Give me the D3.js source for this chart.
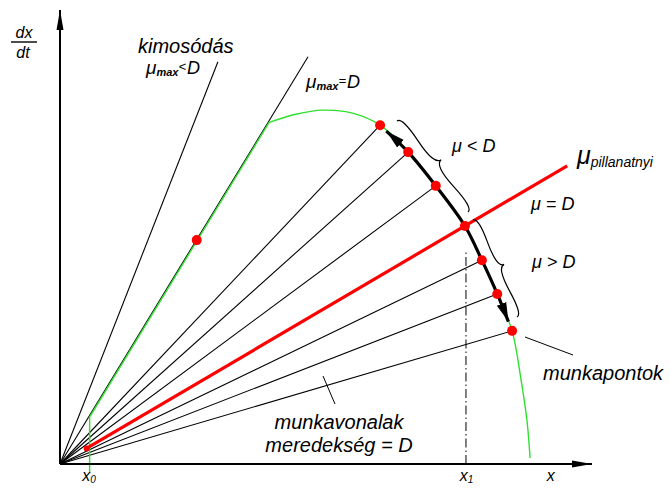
<!DOCTYPE html>
<html><head><meta charset="utf-8">
<script src="https://cdn.jsdelivr.net/npm/d3@7"></script>
<style>
body{margin:0;background:#fff}
text{font-family:"Liberation Sans",Arial,sans-serif;font-style:italic;fill:#000}
</style>
</head><body><svg id="c" width="670" height="489"></svg>
<script>
// ---- data (diagram units: x = concentration, y = dx/dt) ----
const workX = [60.4, 65.7, 70.9, 76.4, 79.6, 82.5, 85.3];   // munkapontok
const workY = [74.3, 68.4, 61.0, 52.2, 44.7, 37.3, 29.2];
const eqIndex = 3;                                           // μ = D
const washoutEnd = [29.8, 88.2];                             // kimosódás, μmax < D
const muMaxEnd = [46.8, 89.3];                               // μmax = D
const muMaxPoint = [25.8, 49.1];
const arcTopX = [39.2, 44.5, 49.5, 55.0];
const arcTopY = [74.8, 76.7, 77.6, 77.0];
const arcLowX = [87.0, 88.1, 88.7];
const arcLowY = [18.4, 9.6, 1.3];
const x0Val = 5.4, x1Val = 76.6, muLineEndX = 95.7;
const xTickValues = [x0Val, x1Val, 92.5];
const xTickLabels = ["x", "x", "x"];
const xTickSubs = ["0", "1", ""];

const W = 670, H = 489;
const svg = d3.select("#c");
const x = d3.scaleLinear().domain([0, 100]).range([60, 590]);
const y = d3.scaleLinear().domain([0, 100]).range([464, 8]);
const line = d3.line().x(d => x(d[0])).y(d => y(d[1]));
const O = [0, 0];

const defs = svg.append("defs");
function marker(id, path, len) {
  defs.append("marker").attr("id", id).attr("markerUnits", "userSpaceOnUse")
    .attr("viewBox", `0 -6 ${len} 12`).attr("refX", len).attr("refY", 0)
    .attr("markerWidth", len).attr("markerHeight", 12).attr("orient", "auto-start-reverse")
    .append("path").attr("d", path).attr("fill", "#000");
}
marker("axarr", "M0,-3.5L20,0L0,3.5Z", 20);
marker("thk", "M0,-5L19,0L0,5Z", 19);

// ---- rays from origin (munkavonalak) ----
const rays = [washoutEnd, muMaxEnd];
workX.forEach((v, i) => { if (i !== eqIndex) rays.push([v, workY[i]]); });
svg.append("g").selectAll("path").data(rays).join("path")
  .attr("d", d => line([O, d])).attr("stroke", "#000").attr("stroke-width", 1.1).attr("fill", "none");

// ---- green curve ----
const muMaxSlope = muMaxEnd[1] / muMaxEnd[0];
const green = "#2ee02e";
svg.append("path")
  .attr("d", line([[x0Val, -1.8], [x0Val, x0Val * muMaxSlope], [arcTopX[0], arcTopY[0]]]))
  .attr("transform", "translate(1,0)")
  .attr("stroke", green).attr("stroke-width", 1.4).attr("fill", "none");
const arcPts = arcTopX.map((v, i) => [v, arcTopY[i]])
  .concat(workX.map((v, i) => [v, workY[i]]))
  .concat(arcLowX.map((v, i) => [v, arcLowY[i]]));
svg.append("path").attr("d", line.curve(d3.curveCatmullRom)(arcPts))
  .attr("stroke", green).attr("stroke-width", 1.4).attr("fill", "none");
line.curve(d3.curveLinear);

// ---- red line μ pillanatnyi ----
const eqSlope = workY[eqIndex] / workX[eqIndex];
svg.append("path").attr("d", line([[x0Val - 0.4, (x0Val - 0.4) * eqSlope], [muLineEndX, muLineEndX * eqSlope]]))
  .attr("stroke", "#ff0000").attr("stroke-width", 3.2).attr("fill", "none");

// ---- dash-dot at x1 ----
svg.append("path").attr("d", line([[x1Val, 0], [x1Val, 46.8]]))
  .attr("stroke", "#000").attr("stroke-width", 1).attr("stroke-dasharray", "9,3,1.5,3").attr("fill", "none");

// ---- thick double arrow along working points ----
const lerp = (a, b, t) => [a[0] + (b[0] - a[0]) * t, a[1] + (b[1] - a[1]) * t];
const wp = workX.map((v, i) => [v, workY[i]]);
const thickPts = [lerp(wp[0], wp[1], 0.22)].concat(wp.slice(1, 6)).concat([lerp(wp[5], wp[6], 0.75)]);
const thickLine = d3.line().x(d => x(d[0])).y(d => y(d[1])).curve(d3.curveCatmullRom);
svg.append("path").attr("d", thickLine(thickPts.slice(2, 5))).attr("stroke", "#fff").attr("stroke-width", 8).attr("fill", "none");
svg.append("path").attr("d", thickLine(thickPts)).attr("stroke", "#000").attr("stroke-width", 3.2)
  .attr("fill", "none").attr("marker-start", "url(#thk)").attr("marker-end", "url(#thk)");

// ---- dots ----
svg.append("g").selectAll("circle").data(wp.concat([muMaxPoint])).join("circle")
  .attr("cx", d => x(d[0])).attr("cy", d => y(d[1])).attr("r", 5).attr("fill", "#ff0000");
svg.append("circle").attr("cx", x(x0Val) - 2).attr("cy", y((x0Val - 0.4) * eqSlope)).attr("r", 3).attr("fill", "#ff0000");

// ---- braces ----
function brace(x1, y1, x2, y2, w, q) {
  const len = Math.hypot(x1 - x2, y1 - y2);
  const dx = (x1 - x2) / len, dy = (y1 - y2) / len;
  const qx1 = x1 + q * w * dy, qy1 = y1 - q * w * dx;
  const qx2 = (x1 - .25 * len * dx) + (1 - q) * w * dy, qy2 = (y1 - .25 * len * dy) - (1 - q) * w * dx;
  const tx1 = (x1 - .5 * len * dx) + w * dy, ty1 = (y1 - .5 * len * dy) - w * dx;
  const qx3 = x2 + q * w * dy, qy3 = y2 - q * w * dx;
  const qx4 = (x1 - .75 * len * dx) + (1 - q) * w * dy, qy4 = (y1 - .75 * len * dy) - (1 - q) * w * dx;
  return `M${x1},${y1}Q${qx1},${qy1} ${qx2},${qy2}T${tx1},${ty1}M${x2},${y2}Q${qx3},${qy3} ${qx4},${qy4}T${tx1},${ty1}`;
}
svg.append("path").attr("d", brace(468, 212, 397, 121, 11, 0.6)).attr("stroke", "#000").attr("stroke-width", 1.2).attr("fill", "none");
svg.append("path").attr("d", brace(517, 317, 473, 220, 10, 0.6)).attr("stroke", "#000").attr("stroke-width", 1.2).attr("fill", "none");

// ---- leader lines ----
svg.append("line").attr("x1", 525).attr("y1", 337).attr("x2", 573).attr("y2", 355).attr("stroke", "#000").attr("stroke-width", 1);
svg.append("line").attr("x1", 323).attr("y1", 376).attr("x2", 335).attr("y2", 404).attr("stroke", "#000").attr("stroke-width", 1);

// ---- axes ----
svg.append("line").attr("x1", x(0)).attr("y1", y(0)).attr("x2", x(0)).attr("y2", 10)
  .attr("stroke", "#000").attr("stroke-width", 2).attr("marker-end", "url(#axarr)");
svg.append("line").attr("x1", x(0)).attr("y1", y(0)).attr("x2", 592).attr("y2", y(0))
  .attr("stroke", "#000").attr("stroke-width", 2).attr("marker-end", "url(#axarr)");
const xa = svg.append("g").attr("transform", `translate(0,${y(0)})`)
  .call(d3.axisBottom(x).tickValues(xTickValues).tickSize(0).tickPadding(6).tickFormat((d, i) => xTickLabels[i]));
xa.select(".domain").remove();
xa.selectAll("text").attr("font-size", 16).attr("font-family", null)
  .each(function (d, i) {
    if (xTickSubs[i]) d3.select(this).append("tspan").attr("font-size", 10).attr("dy", "0.2em").text(xTickSubs[i]);
  });

// ---- labels ----
function T(txt, px, py, fs, anchor) {
  return svg.append("text").attr("x", px).attr("y", py).attr("font-size", fs).attr("text-anchor", anchor || "start").text(txt);
}
// dx/dt
T("dx", 24, 38, 16, "middle");
svg.append("line").attr("x1", 11).attr("x2", 37).attr("y1", 42).attr("y2", 42).attr("stroke", "#000").attr("stroke-width", 1.4);
T("dt", 23, 58, 16, "middle");

T("kimosódás", 138, 53, 20);
function muLabel(px, py, sub, rel, rest) {
  const t = svg.append("text").attr("x", px).attr("y", py).attr("font-size", 19);
  t.append("tspan").text("μ");
  t.append("tspan").attr("font-size", 11).attr("font-weight", "bold").attr("dy", 2).text(sub);
  t.append("tspan").attr("font-size", 13).attr("dy", -5).text(rel);
  t.append("tspan").attr("font-size", 18).attr("dy", 3).attr("dx", 1).text(rest);
}
muLabel(146, 74, "max", "<", "D");
muLabel(306, 88, "max", "=", "D");
T("μ < D", 452, 152, 18);
T("μ = D", 531, 210, 18);
T("μ > D", 532, 268, 18);
const mp = svg.append("text").attr("x", 577).attr("y", 164);
mp.append("tspan").attr("font-size", 25).text("μ");
mp.append("tspan").attr("font-size", 14).attr("dy", 3).text("pillanatnyi");

T("munkapontok", 543, 380, 20);
T("munkavonalak", 339, 429, 20, "middle");
T("meredekség = D", 339, 452, 20, "middle");
</script>
</body></html>
